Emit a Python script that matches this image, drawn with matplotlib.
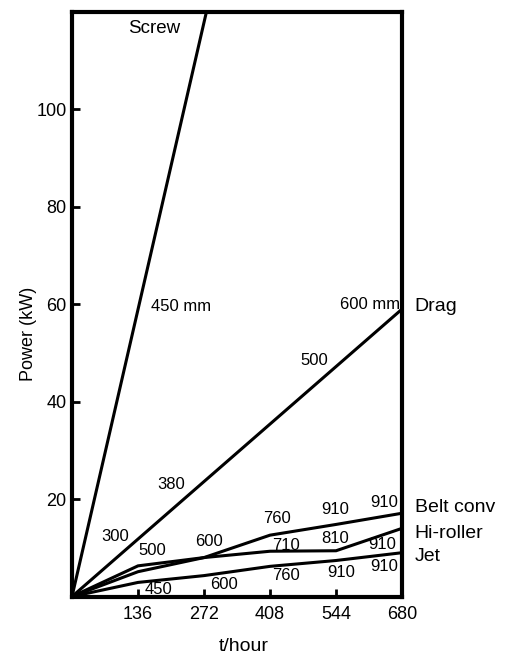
import matplotlib
matplotlib.use("Agg")
import matplotlib.pyplot as plt

plt.rcParams["font.family"] = ["Liberation Sans", "DejaVu Sans"]

# throughput (t/hour) grid for the conveyor curves
X = [0, 136, 272, 408, 544, 680]
BELT = [0, 6.3, 8.0, 12.6, 14.8, 17.1]
HIROLLER = [0, 5.1, 8.0, 9.3, 9.4, 14.0]
JET = [0, 2.9, 4.3, 6.2, 7.4, 9.0]

# straight lines: screw and drag
SCREW_X = [0, 277]
SCREW_Y = [0, 120]
DRAG_X = [0, 680]
DRAG_Y = [0, 59]

XTICKS = [136, 272, 408, 544, 680]
YTICKS = [20, 40, 60, 80, 100]

# size labels along lines
DRAG_LBL = ["300", "380", "500", "600 mm"]
SCREW_LBL = ["450 mm"]
BELT_LBL = ["500", "600", "760", "910", "910"]
HI_LBL = ["710", "810", "910"]
JET_LBL = ["450", "600", "760", "910", "910"]

fig = plt.figure(figsize=(5.07, 6.57), dpi=100)
ax = fig.add_axes([0.142, 0.092, 0.651, 0.890])

kw = dict(color="black", lw=2.2, solid_joinstyle="miter")
ax.plot(SCREW_X, SCREW_Y, **kw)
ax.plot(DRAG_X, DRAG_Y, **kw)
ax.plot(X, BELT, **kw)
ax.plot(X, HIROLLER, **kw)
ax.plot(X, JET, **kw)

ax.set_xlim(0, 680)
ax.set_ylim(0, 120)
ax.set_xticks(XTICKS)
ax.set_yticks(YTICKS)
ax.tick_params(direction="in", length=6, width=2, labelsize=13)
ax.tick_params(axis="x", pad=7)
ax.tick_params(axis="y", pad=4)
for s in ax.spines.values():
    s.set_linewidth(3)

ax.set_ylabel("Power (kW)", fontsize=13)
ax.yaxis.set_label_coords(-0.105, 0.45)
ax.set_xlabel("t/hour", fontsize=14, va="center")
ax.xaxis.set_label_coords(0.52, -0.085)

fs = 12
ax.text(169, 116.5, "Screw", fontsize=13.5, ha="center", va="center")
for s, (x, y) in zip(SCREW_LBL, [(225, 59.6)]):
    ax.text(x, y, s, fontsize=fs, ha="center", va="center")
for s, (x, y) in zip(DRAG_LBL, [(90, 12.4), (205, 23), (499, 48.4)]):
    ax.text(x, y, s, fontsize=fs, ha="center", va="center")
ax.text(676, 60, DRAG_LBL[3], fontsize=fs, ha="right", va="center")
for s, (x, y) in zip(BELT_LBL, [(165, 9.5), (282, 11.2), (422, 16.0), (543, 17.8), (643, 19.4)]):
    ax.text(x, y, s, fontsize=fs, ha="center", va="center")
for s, (x, y) in zip(HI_LBL, [(440, 10.4), (543, 12.0), (639, 10.7)]):
    ax.text(x, y, s, fontsize=fs, ha="center", va="center")
for s, (x, y) in zip(JET_LBL, [(179, 1.5), (313, 2.4), (440, 4.4), (554, 4.9), (643, 6.1)]):
    ax.text(x, y, s, fontsize=fs, ha="center", va="center")

for s, y in [("Drag", 59.5), ("Belt conv", 18.2), ("Hi-roller", 12.9), ("Jet", 8.2)]:
    ax.text(706, y, s, fontsize=14, ha="left", va="center", clip_on=False)

fig.savefig("out.png", dpi=100)
